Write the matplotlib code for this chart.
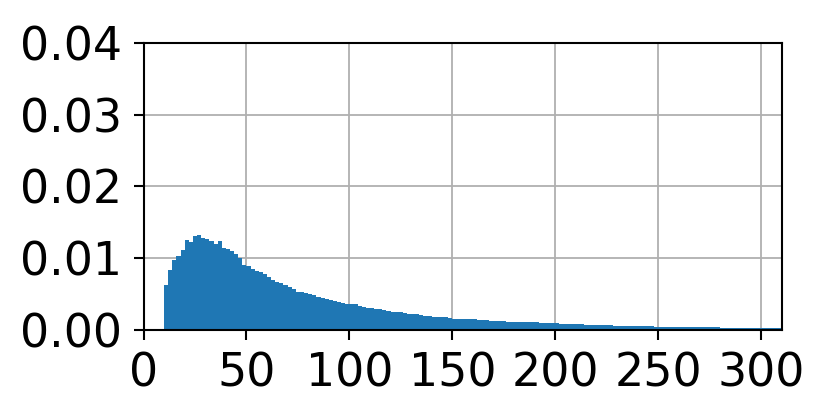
import numpy as np
import matplotlib
matplotlib.use("Agg")
import matplotlib.pyplot as plt

# Histogram bin edges (width 2) and density values
bin_start = 10
bin_width = 2
density = [
    0.0062, 0.0083, 0.0097, 0.0102, 0.0111, 0.0125, 0.0122, 0.0131, 0.0132, 0.0128,  # 10-30
    0.0126, 0.0124, 0.0120, 0.0124, 0.0114, 0.0112, 0.0109, 0.0106, 0.0100, 0.0090,  # 30-50
    0.0089, 0.0085, 0.0082, 0.0080, 0.0077, 0.0073, 0.0069, 0.0067, 0.0065, 0.0062,  # 50-70
    0.0060, 0.0057, 0.0053, 0.0052, 0.0051, 0.0049, 0.0048, 0.0046, 0.0044, 0.0043,  # 70-90
    0.0041, 0.0040, 0.0038, 0.0037, 0.0036, 0.0035, 0.0035, 0.0033, 0.0031, 0.0030,  # 90-110
    0.0030, 0.0029, 0.0028, 0.0027, 0.0026, 0.0025, 0.0024, 0.0024, 0.0023, 0.0022,  # 110-130
    0.0021, 0.0021, 0.0020, 0.0019, 0.0019, 0.0018, 0.0018, 0.0017, 0.0017, 0.0016,  # 130-150
    0.0015, 0.0015, 0.0015, 0.0014, 0.0014, 0.0014, 0.0013, 0.0013, 0.0013, 0.0012,  # 150-170
    0.0012, 0.0012, 0.0012, 0.0011, 0.0011, 0.0011, 0.0011, 0.0010, 0.0010, 0.0010,  # 170-190
    0.00098, 0.00095, 0.00093, 0.00090, 0.00088, 0.00085, 0.00082, 0.00078, 0.00075, 0.00072,  # 190-210
    0.00072, 0.00070, 0.00068, 0.00066, 0.00064, 0.00062, 0.00060, 0.00058, 0.00056, 0.00055,  # 210-230
    0.00054, 0.00052, 0.00051, 0.00050, 0.00049, 0.00048, 0.00046, 0.00045, 0.00044, 0.00042,  # 230-250
    0.00040, 0.00040, 0.00039, 0.00038, 0.00037, 0.00036, 0.00035, 0.00034, 0.00033, 0.00032,  # 250-270
    0.00031, 0.00031, 0.00030, 0.00030, 0.00029, 0.00028, 0.00027, 0.00026, 0.00026, 0.00025,  # 270-290
    0.00025, 0.00024, 0.00024, 0.00023, 0.00023, 0.00022, 0.00022, 0.00022, 0.00021, 0.00021,  # 290-310
]
xticks = [0, 50, 100, 150, 200, 250, 300]
yticks = [0.00, 0.01, 0.02, 0.03, 0.04]

edges = bin_start + bin_width * np.arange(len(density) + 1)
centers = edges[:-1] + bin_width / 2

fig = plt.figure(figsize=(8.3, 4.15), dpi=100)
ax = fig.add_axes([0.1729, 0.2060, 0.9418 - 0.1729, 0.8964 - 0.2060])

ax.hist(centers, bins=edges, weights=density, color="#1f77b4", zorder=2)

ax.set_xlim(0, 310)
ax.set_ylim(0, 0.04)
ax.set_xticks(xticks)
ax.set_yticks(yticks)
ax.set_yticklabels([f"{v:.2f}" for v in yticks])
ax.grid(True, color="#b0b0b0", linewidth=1.3, zorder=0)
ax.set_axisbelow(True)

for s in ax.spines.values():
    s.set_linewidth(1.5)
ax.tick_params(axis="both", labelsize=33, length=7.5, width=1.5, pad=8)

fig.savefig("out.png", dpi=100)
